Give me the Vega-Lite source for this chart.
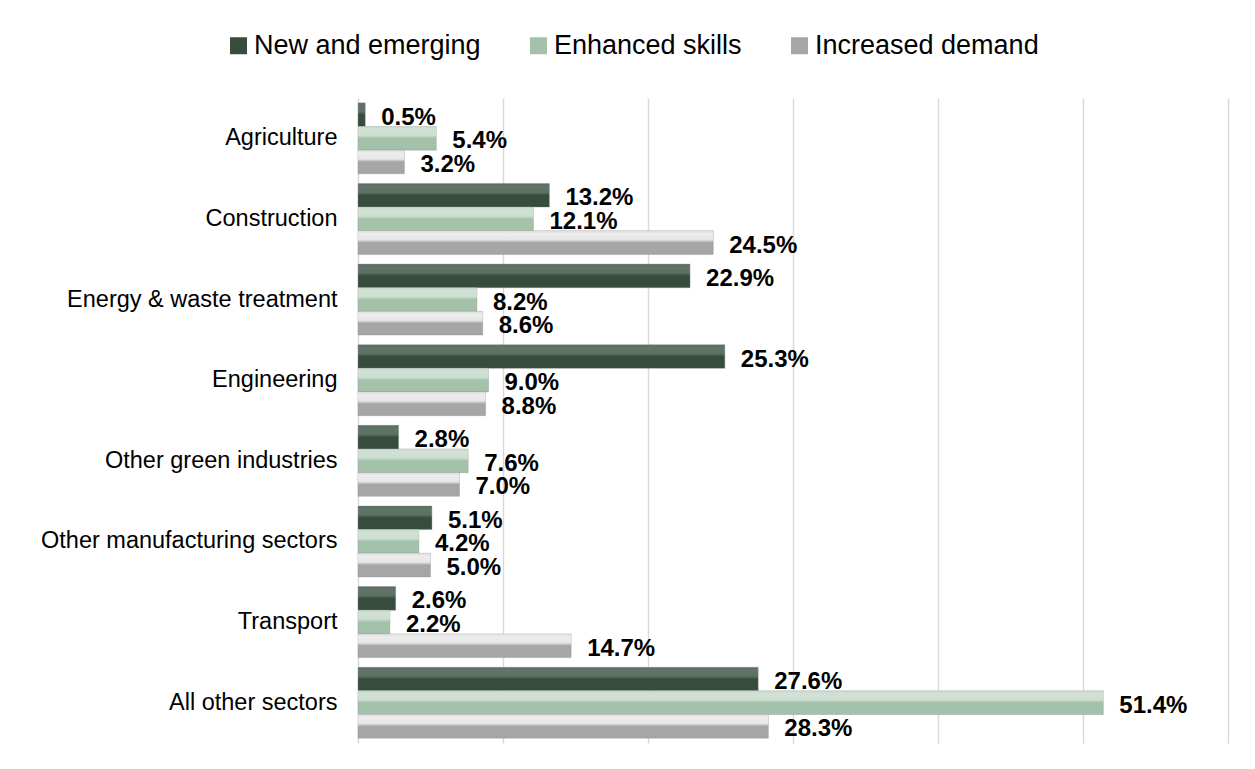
{
  "$schema": "https://vega.github.io/schema/vega-lite/v6.json",
  "width": 870,
  "height": 645,
  "autosize": {"type": "none"},
  "padding": {"left": 358, "top": 98, "right": 27, "bottom": 26},
  "background": "white",
  "config": {
    "view": {"stroke": null},
    "font": "Liberation Sans"
  },
  "data": {
    "values": [
      {"sector": "Agriculture", "type": "New and emerging", "value": 0.005},
      {"sector": "Agriculture", "type": "Enhanced skills", "value": 0.054},
      {"sector": "Agriculture", "type": "Increased demand", "value": 0.032},
      {"sector": "Construction", "type": "New and emerging", "value": 0.132},
      {"sector": "Construction", "type": "Enhanced skills", "value": 0.121},
      {"sector": "Construction", "type": "Increased demand", "value": 0.245},
      {"sector": "Energy & waste treatment", "type": "New and emerging", "value": 0.229},
      {"sector": "Energy & waste treatment", "type": "Enhanced skills", "value": 0.082},
      {"sector": "Energy & waste treatment", "type": "Increased demand", "value": 0.086},
      {"sector": "Engineering", "type": "New and emerging", "value": 0.253},
      {"sector": "Engineering", "type": "Enhanced skills", "value": 0.090},
      {"sector": "Engineering", "type": "Increased demand", "value": 0.088},
      {"sector": "Other green industries", "type": "New and emerging", "value": 0.028},
      {"sector": "Other green industries", "type": "Enhanced skills", "value": 0.076},
      {"sector": "Other green industries", "type": "Increased demand", "value": 0.070},
      {"sector": "Other manufacturing sectors", "type": "New and emerging", "value": 0.051},
      {"sector": "Other manufacturing sectors", "type": "Enhanced skills", "value": 0.042},
      {"sector": "Other manufacturing sectors", "type": "Increased demand", "value": 0.050},
      {"sector": "Transport", "type": "New and emerging", "value": 0.026},
      {"sector": "Transport", "type": "Enhanced skills", "value": 0.022},
      {"sector": "Transport", "type": "Increased demand", "value": 0.147},
      {"sector": "All other sectors", "type": "New and emerging", "value": 0.276},
      {"sector": "All other sectors", "type": "Enhanced skills", "value": 0.514},
      {"sector": "All other sectors", "type": "Increased demand", "value": 0.283}
    ]
  },
  "encoding": {
    "y": {
      "field": "sector",
      "type": "nominal",
      "sort": null,
      "scale": {"paddingInner": 0.12, "paddingOuter": 0.06},
      "axis": {
        "title": null,
        "ticks": false,
        "domain": false,
        "labelFontSize": 23.5,
        "labelColor": "#000000",
        "labelPadding": 21,
        "labelLimit": 400,
        "labelFont": "Liberation Sans"
      }
    },
    "yOffset": {
      "field": "type",
      "type": "nominal",
      "sort": ["New and emerging", "Enhanced skills", "Increased demand"],
      "scale": {"paddingInner": 0, "paddingOuter": 0}
    },
    "x": {
      "field": "value",
      "type": "quantitative",
      "scale": {"domain": [0, 0.6], "nice": false},
      "axis": {
        "title": null,
        "labels": false,
        "ticks": false,
        "domain": false,
        "grid": true,
        "values": [0, 0.1, 0.2, 0.3, 0.4, 0.5, 0.6],
        "gridColor": "#d9d9d9",
        "gridWidth": 1.5
      }
    }
  },
  "layer": [
    {
      "mark": {"type": "bar", "stroke": "#8c8c8c", "strokeWidth": 0.6, "strokeOpacity": 0.6},
      "encoding": {
        "color": {
          "field": "type",
          "type": "nominal",
          "sort": ["New and emerging", "Enhanced skills", "Increased demand"],
          "scale": {
            "domain": ["New and emerging", "Enhanced skills", "Increased demand"],
            "range": ["#364c3d", "#a4c2aa", "#a6a6a6"]
          },
          "legend": {
            "title": null,
            "orient": "none",
            "direction": "horizontal",
            "legendX": -133,
            "legendY": -66,
            "padding": 0,
            "symbolType": "square",
            "symbolSize": 289,
            "symbolStrokeWidth": 0,
            "labelFontSize": 27,
            "labelFont": "Liberation Sans",
            "labelColor": "#000000",
            "labelOffset": 2,
            "columnPadding": 44,
            "labelLimit": 400
          }
        }
      }
    },
    {
      "mark": {
        "type": "bar",
        "fill": {
          "gradient": "linear",
          "x1": 0, "y1": 0, "x2": 0, "y2": 1,
          "stops": [
            {"offset": 0, "color": "rgba(255,255,255,0.75)"},
            {"offset": 0.12, "color": "rgba(255,255,255,1)"},
            {"offset": 0.38, "color": "rgba(255,255,255,0.9)"},
            {"offset": 0.5, "color": "rgba(255,255,255,0)"},
            {"offset": 1, "color": "rgba(255,255,255,0)"}
          ]
        }
      },
      "encoding": {
        "fillOpacity": {
          "field": "type",
          "type": "nominal",
          "scale": {
            "domain": ["New and emerging", "Enhanced skills", "Increased demand"],
            "range": [0.22, 0.8, 0.72]
          },
          "legend": null
        }
      }
    },
    {
      "mark": {
        "type": "text",
        "align": "left",
        "baseline": "middle",
        "dx": 16,
        "dy": 3,
        "fontSize": 24,
        "fontWeight": "bold",
        "font": "Liberation Sans",
        "color": "#000000"
      },
      "encoding": {
        "text": {"field": "value", "type": "quantitative", "format": ".1%"}
      }
    }
  ]
}
